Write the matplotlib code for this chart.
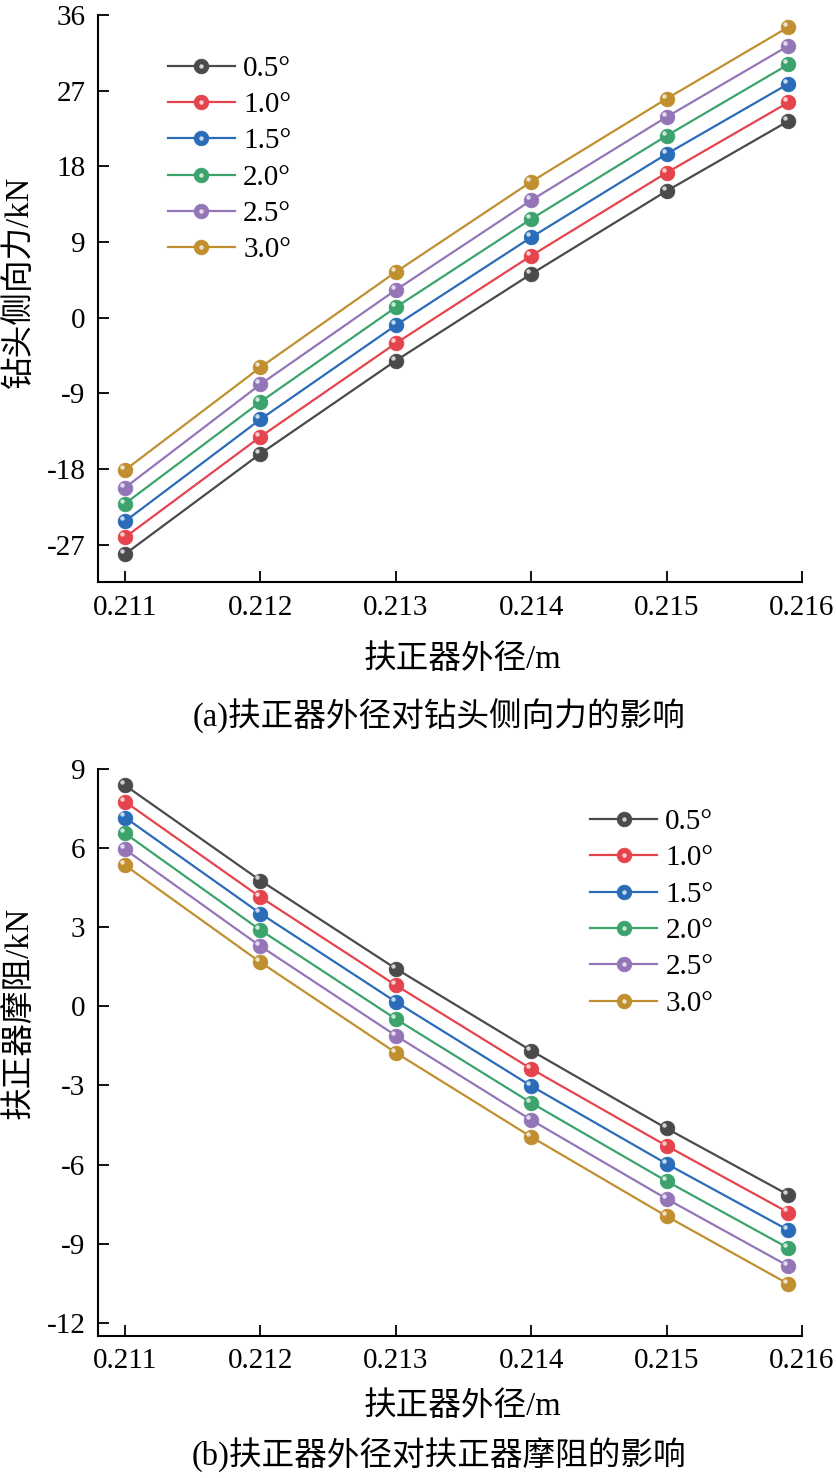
import numpy as np
import matplotlib
matplotlib.use('Agg')
import matplotlib.pyplot as plt
from matplotlib.transforms import ScaledTranslation
from matplotlib.legend_handler import HandlerTuple

plt.rcParams['font.family'] = ['Liberation Serif', 'Noto Sans CJK SC']
plt.rcParams['axes.unicode_minus'] = False

# ---- data ----
diam = [0.211, 0.212, 0.213, 0.214, 0.215, 0.2159]
angles = ['0.5°', '1.0°', '1.5°', '2.0°', '2.5°', '3.0°']
colors = ['#4a4a4c', '#e5444c', '#2a6cb8', '#3ca36c', '#9476b8', '#c08f2f']

side_force = [
    [-28.1, -16.16, -5.10, 5.21, 15.08, 23.40],
    [-26.1, -14.14, -3.03, 7.38, 17.25, 25.62],
    [-24.2, -12.07, -0.89, 9.57, 19.48, 27.83],
    [-22.1, -10.00, 1.25, 11.75, 21.65, 30.14],
    [-20.2, -7.91, 3.31, 13.97, 23.88, 32.35],
    [-18.1, -5.89, 5.45, 16.18, 26.05, 34.58],
]
friction = [
    [8.38, 4.77, 1.43, -1.68, -4.63, -7.15],
    [7.76, 4.14, 0.80, -2.37, -5.29, -7.82],
    [7.16, 3.52, 0.17, -3.02, -5.97, -8.49],
    [6.56, 2.89, -0.48, -3.66, -6.63, -9.17],
    [5.95, 2.28, -1.11, -4.31, -7.30, -9.85],
    [5.35, 1.67, -1.76, -4.95, -7.96, -10.53],
]
xticks = [0.211, 0.212, 0.213, 0.214, 0.215, 0.216]
yticks_a = [-27, -18, -9, 0, 9, 18, 27, 36]
yticks_b = [-12, -9, -6, -3, 0, 3, 6, 9]

fig = plt.figure(figsize=(8.36, 14.78), dpi=100)
ax1 = fig.add_axes([0.1172, 0.6060, 0.8421, 0.3838])
ax2 = fig.add_axes([0.1172, 0.0961, 0.8421, 0.3836])

fs_tick = 21
fs_lab = 23.5


def draw(ax, data, ylim, yticks, ylab, xlab, title, leg_xy, ylab_y):
    handles = []
    shift = ScaledTranslation(-2.2 / 72, 2.2 / 72, fig.dpi_scale_trans)
    for vals, c, lab in zip(data, colors, angles):
        ln, = ax.plot(diam, vals, color=c, lw=1.6, marker='o', ms=10.5,
                      mfc=c, mec=c, mew=0.6, label=lab, zorder=3)
        hl, = ax.plot(diam, vals, ls='none', marker='o', ms=3.2,
                      mfc='white', mec='none', alpha=0.75, zorder=4,
                      transform=ax.transData + shift)
        handles.append((ln, hl))
    ax.set_xlim(0.2108, 0.216)
    ax.set_ylim(*ylim)
    ax.set_xticks(xticks)
    ax.set_xticklabels(['%.3f' % t for t in xticks])
    ax.set_yticks(yticks)
    ax.set_yticklabels([str(t) for t in yticks])
    for s in ['top', 'right']:
        ax.spines[s].set_visible(False)
    for s in ['left', 'bottom']:
        ax.spines[s].set_linewidth(1.5)
    ax.tick_params(direction='in', length=8, width=1.3, labelsize=fs_tick,
                   pad=9)
    ax.text(-0.112, ylab_y, ylab, transform=ax.transAxes, rotation=90,
            ha='center', va='center', fontsize=fs_lab)
    ax.text(0.517, xlab[1], xlab[0], transform=ax.transAxes,
            ha='center', va='center', fontsize=fs_lab)
    ax.text(0.484, title[1], title[0], transform=ax.transAxes,
            ha='center', va='center', fontsize=fs_lab)
    ax.legend(handles, angles,
              handler_map={tuple: HandlerTuple(ndivide=1, pad=0)},
              loc='upper left', bbox_to_anchor=leg_xy, frameon=False,
              fontsize=fs_tick, handlelength=2.3, handletextpad=0.28,
              labelspacing=0.34, borderpad=0, borderaxespad=0)


draw(ax1, side_force, (-31.46, 36), yticks_a, '钻头侧向力/kN',
     ('扶正器外径/m', -0.137), ('(a)扶正器外径对钻头侧向力的影响', -0.237),
     (0.0994, 0.929), 0.53)
draw(ax2, friction, (-12.5, 9), yticks_b, '扶正器摩阻/kN',
     ('扶正器外径/m', -0.125), ('(b)扶正器外径对扶正器摩阻的影响', -0.21),
     (0.699, 0.93), 0.57)

fig.savefig('out.png', dpi=100)
